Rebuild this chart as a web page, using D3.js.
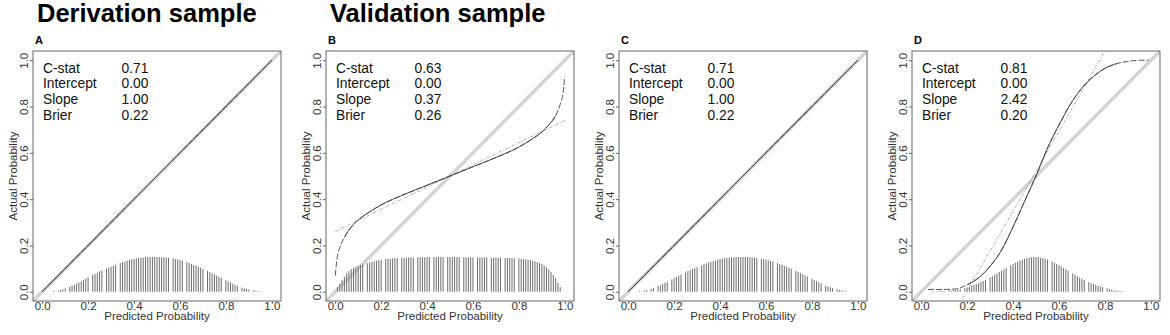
<!DOCTYPE html>
<html>
<head>
<meta charset="utf-8">
<script src="https://cdn.jsdelivr.net/npm/d3@7"></script>
<style>
  body { margin: 0; background: #fff; }
  svg { display: block; font-family: "Liberation Sans", Arial, sans-serif; }
</style>
</head>
<body>
<div class="chart"></div>
<script>
var width = 1170;
var height = 335;

// headings above the panels
var headingText = ["Derivation sample", "Validation sample"];
var headingPanel = [0, 1];

var panelLetters = ["A", "B", "C", "D"];
var tickValues = [0, 0.2, 0.4, 0.6, 0.8, 1.0];

// performance statistics shown in each panel
var statNames = ["C-stat", "Intercept", "Slope", "Brier"];
var statValues = [
	["0.71", "0.00", "1.00", "0.22"],
	["0.63", "0.00", "0.37", "0.26"],
	["0.71", "0.00", "1.00", "0.22"],
	["0.81", "0.00", "2.42", "0.20"]
];

// calibration curves (predicted, actual)
var curveA = [[0, 0], [1, 1]];
var curveB = [[0.001, 0.07], [0.005, 0.12], [0.01, 0.155], [0.02, 0.19], [0.04, 0.235], [0.07, 0.28],
	[0.1, 0.31], [0.15, 0.345], [0.2, 0.375], [0.3, 0.42], [0.4, 0.46], [0.5, 0.5], [0.6, 0.54],
	[0.7, 0.58], [0.8, 0.625], [0.85, 0.655], [0.9, 0.69], [0.93, 0.72], [0.96, 0.76], [0.98, 0.81],
	[0.99, 0.845], [0.995, 0.88], [0.999, 0.93]];
var curveC = [[0, 0], [1, 1]];
var curveD = [[0.03, 0.01], [0.1, 0.01], [0.15, 0.012], [0.2, 0.03], [0.25, 0.06], [0.3, 0.11],
	[0.35, 0.18], [0.4, 0.28], [0.45, 0.39], [0.5, 0.5], [0.55, 0.62], [0.6, 0.72], [0.65, 0.81],
	[0.7, 0.88], [0.75, 0.93], [0.8, 0.965], [0.85, 0.985], [0.9, 0.995], [0.95, 1.0], [0.99, 1.0]];
// part of each curve drawn solid (the rest is dashed)
var solidFrom = [0, 0.03, 0, 0.2];
var solidTo = [1, 0.96, 1, 0.86];

// straight fitted lines
var lineA = [[0, 0], [1, 1]];
var lineB = [[0, 0.26], [0.5, 0.5], [1, 0.74]];
var lineC = [[0, 0], [1, 1]];
var lineD = [[0.18, -0.03], [0.5, 0.52], [0.8, 1.04]];

// spike histograms of predicted probabilities, bins of 0.01
var spikeStartA = 0.05;
var spikesA = [.004, 0, .006, .008, .010, .014, 0, .022, .026, .030, .035, .040, .045, .050, .056, .062,
	0, .072, .077, .082, .087, .092, 0, .100, .104, .108, .112, .116, 0, .124, .128, .131, .134, .137,
	.140, .142, .144, .146, .147, .148, .149, .150, .150, .150, .150, .150, .150, .149, .149, .148, .147,
	0, .144, .142, .140, .137, .134, 0, .128, .124, .120, .116, .112, .108, .104, .099, 0, .090, .085,
	.080, .075, .070, .065, .060, 0, .050, .045, .040, .035, .030, .026, 0, .018, .015, .012, .010, 0,
	.006, .005, .003, .002];
var spikeStartB = 0.01;
var spikesB = [.020, .035, .050, .065, .080, .090, .098, .104, .108, .112, .115, .118, 0, .124, .127,
	.130, .132, .134, .136, .138, 0, .141, .142, .143, .144, .145, .146, 0, .147, .147, .148, .148, .148,
	.148, 0, .149, .149, .149, .149, .150, .150, 0, .150, .150, .150, .150, .150, 0, .150, .150, .150,
	.150, .150, .150, 0, .149, .149, .149, .149, .149, 0, .148, .148, .148, .148, .148, 0, .147, .147,
	.147, .147, .147, 0, .146, .146, .146, .145, .145, 0, .144, .142, .141, .140, .138, .137, .134, .132,
	.128, .125, .120, .114, .106, .097, .086, .073, .058, .040, .020];
var spikeStartC = 0.05;
var spikesC = [.003, 0, .005, .007, 0, .013, .017, 0, .024, .028, .033, .038, .043, 0, .053, .059,
	.064, .069, .074, 0, .084, .089, .094, .098, .102, .106, 0, .114, .118, .122, .126, .129, .132, .135,
	.138, .141, .143, .145, .146, .147, .148, .149, .150, .150, .150, .150, .150, .150, .149, .148, .147,
	.146, 0, .143, .141, .139, .136, .133, .130, 0, .124, .120, .116, .112, .108, .104, .100, 0, .091,
	.086, .081, .076, .071, .066, 0, .056, .051, .046, .041, .036, 0, .027, .023, .019, .016, 0, .011,
	.008, .006, .004, .002];
var spikeStartD = 0.05;
var spikesD = [.002, 0, .003, .003, .004, .004, 0, .005, .006, .007, .008,
	.010, .012, 0, .016, .019, .022, .026, .030, .033, .037, .042, .046, .051, 0, .062, .067, .073, .079,
	.085, .091, .097, .103, 0, .115, .120, .125, .130, .135, .139, .143, .145, .147, .149, .150, .150,
	.149, .147, .145, .143, .139, 0, .130, .125, .120, .115, .109, .103, .097, .091, 0, .079, .073, .067,
	.062, .056, .051, 0, .042, .037, .033, .030, .026, .023, .020, 0, .015, .011, .008, .006, .005, .004,
	.003, .002];

var curves = [curveA, curveB, curveC, curveD];
var lines = [lineA, lineB, lineC, lineD];
var spikeStarts = [spikeStartA, spikeStartB, spikeStartC, spikeStartD];
var spikes = [spikesA, spikesB, spikesC, spikesD];

var svg = d3.select(".chart")
	.append("svg")
	.attr("width", width)
	.attr("height", height);

var panelStep = 293;
var frameLeft = 33;
var frameTop = 51;
var frameW = 248;
var frameH = 250;

headingText.forEach(function(t, i) {
	svg.append("text")
		.attr("x", frameLeft + panelStep * headingPanel[i] + 4)
		.attr("y", 22)
		.attr("font-size", "25.5px")
		.attr("font-weight", "bold")
		.attr("fill", "#000")
		.text(t);
});

panelLetters.forEach(function(letter, p) {
	var left = frameLeft + panelStep * p;
	var x = d3.scaleLinear().domain([-0.04, 1.04]).range([left, left + frameW]);
	var y = d3.scaleLinear().domain([-0.04, 1.04]).range([frameTop + frameH, frameTop]);
	var g = svg.append("g");

	g.append("defs").append("clipPath")
		.attr("id", "clip" + p)
		.append("rect")
		.attr("x", left).attr("y", frameTop)
		.attr("width", frameW).attr("height", frameH);

	var plot = g.append("g").attr("clip-path", "url(#clip" + p + ")");

	// ideal line across the whole plot region
	plot.append("line")
		.attr("x1", x(-0.04)).attr("y1", y(-0.04))
		.attr("x2", x(1.04)).attr("y2", y(1.04))
		.attr("stroke", "#d4d4d4")
		.attr("stroke-width", 3.5);

	// spikes
	plot.selectAll("line.spike")
		.data(spikes[p].map(function(h, i) { return { x: spikeStarts[p] + i * 0.01, h: h }; })
			.filter(function(d) { return d.h > 0; }))
		.enter()
		.append("line")
		.attr("class", "spike")
		.attr("x1", function(d) { return x(d.x); })
		.attr("x2", function(d) { return x(d.x); })
		.attr("y1", y(0))
		.attr("y2", function(d) { return y(d.h); })
		.attr("stroke", "#6e6e6e")
		.attr("stroke-width", 1);

	var lineGen = d3.line()
		.x(function(d) { return x(d[0]); })
		.y(function(d) { return y(d[1]); })
		.curve(d3.curveMonotoneX);

	plot.append("path")
		.attr("d", lineGen(lines[p]))
		.attr("fill", "none")
		.attr("stroke", "#888")
		.attr("stroke-width", 0.7)
		.attr("stroke-dasharray", "3,1.5,1,1.5");

	plot.append("path")
		.attr("d", lineGen(curves[p]))
		.attr("fill", "none")
		.attr("stroke", "#444")
		.attr("stroke-width", 0.9)
		.attr("stroke-dasharray", "6,2");

	plot.append("path")
		.attr("d", lineGen(curves[p].filter(function(d) {
			return d[0] >= solidFrom[p] && d[0] <= solidTo[p];
		})))
		.attr("fill", "none")
		.attr("stroke", "#444")
		.attr("stroke-width", 0.9);

	// frame
	g.append("rect")
		.attr("x", left).attr("y", frameTop)
		.attr("width", frameW).attr("height", frameH)
		.attr("fill", "none")
		.attr("stroke", "#666")
		.attr("stroke-width", 1);

	// axes
	var xAxis = g.append("g")
		.attr("transform", "translate(0," + (frameTop + frameH) + ")")
		.call(d3.axisBottom(x).tickValues(tickValues).tickSize(3).tickFormat(d3.format(".1f")));
	xAxis.select(".domain").remove();
	xAxis.selectAll("line").attr("stroke", "#666");
	xAxis.selectAll("text")
		.attr("y", 8.5)
		.attr("dy", 0)
		.attr("font-size", "11.5px")
		.attr("font-family", "Liberation Sans, Arial, sans-serif")
		.attr("fill", "#333");

	var yAxis = g.append("g")
		.attr("transform", "translate(" + left + ",0)")
		.call(d3.axisLeft(y).tickValues(tickValues).tickSize(3).tickFormat(d3.format(".1f")));
	yAxis.select(".domain").remove();
	yAxis.selectAll("line").attr("stroke", "#666");
	yAxis.selectAll("text")
		.attr("x", 0)
		.attr("y", 0)
		.attr("dy", "0.35em")
		.attr("transform", "translate(-9.3,0) rotate(-90)")
		.attr("text-anchor", "middle")
		.attr("font-size", "11.5px")
		.attr("font-family", "Liberation Sans, Arial, sans-serif")
		.attr("fill", "#333");

	// axis titles
	g.append("text")
		.attr("x", left + frameW / 2)
		.attr("y", 319.5)
		.attr("text-anchor", "middle")
		.attr("font-size", "11.5px")
		.attr("fill", "#333")
		.text("Predicted Probability");

	g.append("text")
		.attr("transform", "translate(" + (left - 20.5) + "," + (frameTop + frameH / 2) + ") rotate(-90)")
		.attr("text-anchor", "middle")
		.attr("dy", "0.35em")
		.attr("font-size", "11.5px")
		.attr("fill", "#333")
		.text("Actual Probability");

	// panel letter
	g.append("text")
		.attr("x", left + 2)
		.attr("y", 44)
		.attr("font-size", "11px")
		.attr("font-weight", "bold")
		.attr("fill", "#000")
		.text(letter);

	// statistics
	statNames.forEach(function(name, i) {
		g.append("text")
			.attr("x", left + 10)
			.attr("y", 72.5 + i * 15.9)
			.attr("font-size", "13.8px")
			.attr("fill", "#111")
			.text(name);
		g.append("text")
			.attr("x", left + 88.5)
			.attr("y", 72.5 + i * 15.9)
			.attr("font-size", "13.8px")
			.attr("fill", "#111")
			.text(statValues[p][i]);
	});
});
</script>
</body>
</html>
